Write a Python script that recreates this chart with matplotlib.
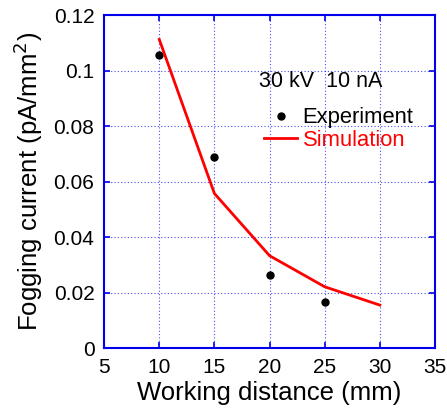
import matplotlib.pyplot as plt

plt.rcParams['font.family'] = ['Liberation Sans', 'DejaVu Sans']

exp_distance = [10, 15, 20, 25]
exp_current = [0.1055, 0.069, 0.0263, 0.0165]

sim_distance = [10, 15, 20, 25, 30]
sim_current = [0.1112, 0.0557, 0.0333, 0.0221, 0.0155]

x_ticks = [5, 10, 15, 20, 25, 30, 35]
y_ticks = [0, 0.02, 0.04, 0.06, 0.08, 0.1, 0.12]
y_labels = ["0", "0.02", "0.04", "0.06", "0.08", "0.1", "0.12"]

blue = "#0000ee"

fig = plt.figure(figsize=(4.47, 4.11), dpi=100)
ax = fig.add_axes([0.233, 0.153, 0.74, 0.8105])

ax.plot(exp_distance, exp_current, "o", color="black", markersize=5, label="Experiment")
ax.plot(sim_distance, sim_current, color="red", linewidth=2, label="Simulation")

ax.set_xlim(5, 35)
ax.set_ylim(0, 0.12)
ax.set_xticks(x_ticks)
ax.set_yticks(y_ticks)
ax.set_yticklabels(y_labels)
ax.grid(True, color=blue, linestyle=(0, (1, 2)), linewidth=0.8, alpha=0.7)

for s in ax.spines.values():
    s.set_color(blue)
    s.set_linewidth(1.5)
ax.tick_params(direction="in", top=True, right=True, color=blue, labelsize=15, length=4, width=1.2, pad=7)

ax.set_xlabel("Working distance (mm)", fontsize=18.5, labelpad=3)
ax.set_ylabel("Fogging current (pA/mm$^2$)", fontsize=18.5, labelpad=6)

ax.text(0.656, 0.80, "30 kV  10 nA", transform=ax.transAxes, fontsize=15.5, ha="center", va="center")
ax.legend(loc="upper right", bbox_to_anchor=(0.935, 0.723), frameon=False, fontsize=15.8,
          handlelength=1.5, handletextpad=0.25, labelspacing=0.07, borderpad=0, borderaxespad=0,
          labelcolor=["black", "red"])

fig.savefig("out.png", dpi=100)
